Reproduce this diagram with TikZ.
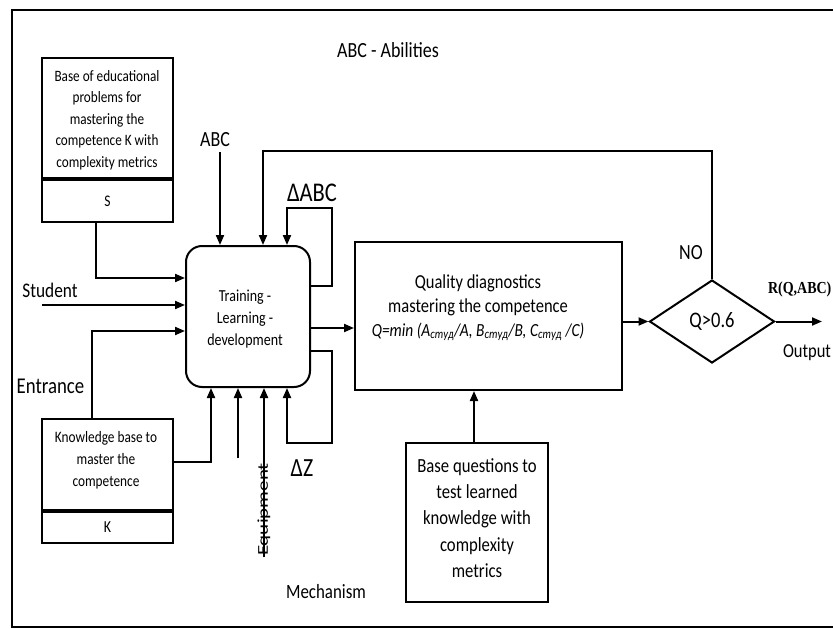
\documentclass[tikz,border=0pt]{standalone}
\usepackage{fontspec}
\setmainfont{Carlito}
\newfontfamily\serifb{Liberation Serif}
\usetikzlibrary{shapes.geometric,arrows.meta}
\newcommand\myfs[2]{\fontsize{#1}{#2}\selectfont}
\begin{document}
\begin{tikzpicture}[x=1pt,y=-1pt,line width=2pt,
  arr/.style={-{Triangle[length=10pt,width=8pt]}},
  box/.style={draw,inner sep=0pt},
  lbl/.style={inner sep=0pt,align=center,yscale=1.2,transform shape}]
\useasboundingbox (0,0) rectangle (833,629);
\fill[white] (0,0) rectangle (833,629);
\draw (845,10) -- (12,10) -- (12,627) -- (845,627);

% boxes
\node[box,minimum width=131pt,minimum height=120pt] (Sb) at (107.5,118) {};
\node[box,minimum width=131pt,minimum height=42pt,anchor=north] (Sl) at (Sb.south) {};
\node[box,minimum width=131pt,minimum height=91pt] (Kb) at (107.5,464.5) {};
\node[box,minimum width=131pt,minimum height=31pt,anchor=north] (Kl) at (Kb.south) {};
\node[box,rounded corners=16pt,minimum width=124pt,minimum height=141pt] (T) at (248,316.5) {};
\node[box,minimum width=267pt,minimum height=148pt] (Q) at (488.5,316) {};
\node[draw,diamond,minimum width=125pt,minimum height=83pt,inner sep=0pt] (D) at (712,321.5) {};
\node[box,minimum width=142pt,minimum height=159pt] (BQ) at (477,522.5) {};

% box texts
\node[lbl,font=\myfs{13.2}{17.9}] (Sbt) at (107,120) {Base of educational\\problems for\\mastering the\\competence K with\\complexity metrics};
\node[lbl,font=\myfs{13.5}{15}] (Slt) at (Sl.center) {S};
\node[lbl,font=\myfs{13.3}{18.3}] (Kbt) at (106,460) {Knowledge base to\\master the\\competence};
\node[lbl,font=\myfs{14}{15}] (Klt) at (Kl.center) {K};
\node[lbl,font=\myfs{14}{18.3}] (Tt) at (245,319) {Training -\\Learning -\\development};
\node[lbl,font=\myfs{16.5}{19.6}] (Qt) at (478,308) {Quality diagnostics\\mastering the competence\\{\itshape\myfs{15.4}{19.6}Q=min (A\textsubscript{студ}/A, B\textsubscript{студ}/B, C\textsubscript{студ} /C)}};
\node[lbl,font=\myfs{18.5}{20}] (Dt) at (D.center) {Q>0.6};
\node[lbl,font=\myfs{16.7}{22}] (BQt) at (477,518) {Base questions to\\test learned\\knowledge with\\complexity\\metrics};

% labels
\node[lbl,font=\myfs{18}{20}] (title) at (388,50) {ABC - Abilities};
\node[lbl,font=\myfs{18}{20}] (abc) at (215,140) {ABC};
\node[lbl,font=\myfs{22.5}{24}] (dabc) at (312,193) {ΔABC};
\node[lbl,font=\myfs{17.3}{19}] (stud) at (50,290) {Student};
\node[lbl,font=\myfs{18.8}{20}] (entr) at (50.5,386) {Entrance};
\node[lbl,font=\myfs{21.8}{24}] (dz) at (302,468) {ΔZ};
\node[lbl,font=\myfs{16.9}{19}] (mech) at (326,592) {Mechanism};
\node[lbl,font=\myfs{18}{20}] (no) at (691,253) {NO};
\node[lbl,anchor=west,font=\serifb\bfseries\myfs{14}{16}] (rq) at (767,289) {R(Q,ABC)};
\node[lbl,anchor=west,font=\myfs{16.5}{18}] (outl) at (782,353) {Output};

% coordinates
\coordinate (yS) at (0,278);
\coordinate (st) at (42,305);
\coordinate (yE) at (0,331);
\coordinate (yK) at (0,462);
\coordinate (m1) at (238,458);
\coordinate (yTQ) at (0,328);
\coordinate (fb) at (0,151);
\coordinate (la) at (332,286);
\coordinate (lb) at (332,208);
\coordinate (za) at (332,351);
\coordinate (zb) at (332,443);
\coordinate (out) at (822,0);
\coordinate (eqb) at (264,557);

% connectors
\draw[arr] ([xshift=5pt,yshift=-4pt]abc.south) -- ([xshift=5pt]abc.south |- T.north);
\draw[arr] (D.north) -- (D.north |- fb) -| ([xshift=15pt]T.north);
\draw[arr] (T.east |- la) -- (la) -- (lb) -| ([xshift=39pt]T.north);
\draw[arr] (T.east |- za) -- (za) -- (zb) -| ([xshift=39pt]T.south);
\draw[arr] (T.east |- yTQ) -- (Q.west |- yTQ);
\draw[arr] (Q.east |- D.west) -- (D.west);
\draw[arr] (D.east) -- (D.east -| out);
\draw[arr] ([xshift=-3pt]BQ.north) -- ([xshift=-3pt]BQ.north |- Q.south);
\draw[arr] ([xshift=-11.5pt]Sl.south) |- (T.west |- yS);
\draw[arr] (st) -- (T.west |- st);
\draw[arr] ([xshift=-15.5pt]Kb.north) |- (T.west |- yE);
\draw[arr] (Kb.east |- yK) -| ([xshift=-37pt]T.south);
\draw[arr] (m1) -- (m1 |- T.south);
\draw[arr] (eqb) -- (eqb |- T.south);
\node[inner sep=0pt,rotate=90,font=\myfs{15}{17}] (eq) at (264,509.5) {\scalebox{1.4}[1]{Equipment}};
\end{tikzpicture}
\end{document}
